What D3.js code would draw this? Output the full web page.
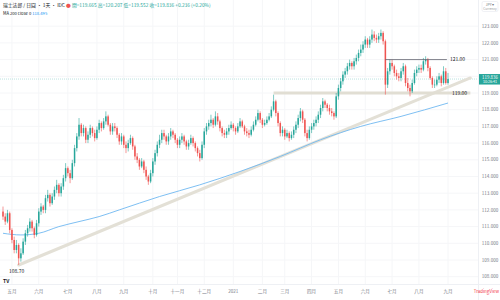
<!DOCTYPE html>
<html>
<head>
<meta charset="utf-8">
<script src="https://cdn.jsdelivr.net/npm/d3@7"></script>
<style>
  body { margin: 0; background: #fff; }
  svg { display: block; }
  text { font-family: "Noto Sans CJK TC", "Noto Sans", sans-serif; }
</style>
</head>
<body>
<div id="chart"></div>
<script>
// daily-ish bars, open = previous close
var firstOpen = 111.9;
var closes = [
  111.6, 111.3, 111.8, 110.8, 110.2, 109.6, 109.9, 109.1, 109.4, 110.1,
  110.6, 110.9, 111.3, 110.9, 110.5, 111.2, 111.9, 112.2, 112.0, 112.7,
  112.9, 112.4, 112.8, 113.2, 113.5, 113.0, 113.4, 113.9, 114.5, 114.2,
  113.9, 114.8, 115.7, 116.4, 117.1, 116.6, 116.9, 116.2, 116.5, 116.9,
  116.6, 116.3, 116.8, 117.2, 116.9, 117.3, 117.6, 117.1, 116.7, 117.0,
  116.9, 116.5, 116.1, 116.4, 115.9, 115.7, 116.0, 116.3, 115.8, 115.2,
  115.0, 114.6, 114.9, 114.4, 114.0, 113.7, 114.2, 114.9, 115.4, 115.9,
  116.2, 116.6, 116.4, 116.1, 116.4, 116.7, 116.5, 116.2, 115.9, 116.2,
  116.4, 116.1, 115.8, 116.0, 116.3, 116.0, 115.7, 115.4, 115.1, 115.9,
  116.7, 117.0, 117.2, 117.4, 117.1, 117.6, 117.3, 116.9, 116.6, 116.5,
  116.7, 116.9, 117.1, 116.9, 116.7, 117.0, 117.3, 117.0, 116.7, 116.6,
  116.5, 116.8, 117.1, 117.4, 117.8, 117.4, 117.1, 117.2, 117.4, 117.6,
  118.0, 118.5, 117.8, 117.2, 116.6, 116.8, 116.4, 116.6, 116.3, 116.5,
  116.8, 117.1, 117.5, 117.9, 117.4, 116.6, 116.3, 116.8, 117.0, 117.2,
  117.4, 117.7, 118.1, 118.5, 118.3, 118.1, 117.9, 117.8, 117.6, 118.8,
  119.3, 119.7, 120.1, 120.3, 120.6, 120.8, 120.6, 120.9, 121.1, 121.4,
  121.6, 121.9, 122.2, 121.9, 122.2, 122.5, 122.3, 122.2, 122.4, 122.6,
  122.1, 119.5, 120.3, 120.8, 120.6, 120.2, 120.0, 119.9, 120.3, 120.6,
  119.6, 119.3, 119.1, 119.6, 120.2, 120.4, 120.5, 120.4, 120.9, 121.0,
  120.5, 119.9, 119.5, 119.5, 119.8, 120.0, 119.6, 120.3, 119.6, 119.836
];
var highs = [
  112.2, 111.8, 112.0, 111.9, 110.9, 110.4, 110.2, 110.0, 109.7, 110.3,
  110.8, 111.1, 111.5, 111.4, 111.0, 111.4, 112.1, 112.4, 112.3, 112.9,
  113.2, 113.0, 113.0, 113.4, 113.8, 113.6, 113.6, 114.1, 114.8, 114.6,
  114.4, 115.0, 115.9, 116.6, 117.5, 117.2, 117.1, 117.0, 116.7, 117.1,
  117.0, 116.8, 117.0, 117.4, 117.3, 117.5, 117.9, 117.7, 117.2, 117.2,
  117.2, 117.0, 116.6, 116.6, 116.5, 116.1, 116.2, 116.5, 116.4, 115.9,
  115.4, 115.1, 115.1, 115.0, 114.6, 114.1, 114.4, 115.1, 115.6, 116.1,
  116.5, 116.8, 116.8, 116.5, 116.6, 116.9, 116.8, 116.6, 116.3, 116.4,
  116.6, 116.5, 116.2, 116.2, 116.5, 116.4, 116.1, 115.8, 115.6, 116.1,
  116.9, 117.2, 117.4, 117.7, 117.5, 117.9, 117.8, 117.4, 117.0, 116.8,
  116.9, 117.1, 117.3, 117.2, 117.0, 117.2, 117.5, 117.4, 117.1, 116.9,
  116.8, 117.0, 117.3, 117.6, 118.0, 117.9, 117.5, 117.4, 117.6, 117.8,
  118.2, 118.9, 118.6, 117.9, 117.3, 117.0, 116.9, 116.8, 116.7, 116.7,
  117.0, 117.3, 117.7, 118.1, 118.0, 117.5, 116.8, 117.0, 117.2, 117.4,
  117.6, 117.9, 118.3, 118.7, 118.6, 118.4, 118.3, 118.1, 117.9, 119.0,
  119.5, 119.9, 120.3, 120.5, 120.8, 121.0, 120.9, 121.1, 121.3, 121.6,
  121.9, 122.1, 122.4, 122.3, 122.4, 122.8, 122.7, 122.5, 122.6, 122.8,
  122.7, 122.2, 120.5, 121.0, 121.0, 120.7, 120.4, 120.2, 120.5, 120.8,
  120.7, 119.9, 119.5, 119.8, 120.4, 120.6, 120.7, 120.7, 121.1, 121.2,
  121.1, 120.6, 120.0, 119.8, 120.0, 120.2, 120.1, 120.6, 120.5, 120.2
];
var lows = [
  111.4, 111.1, 111.2, 110.6, 110.0, 109.4, 109.4, 108.7, 108.9, 109.3,
  109.9, 110.4, 110.7, 110.7, 110.3, 110.4, 111.0, 111.7, 111.8, 111.8,
  112.5, 112.2, 112.3, 112.6, 113.0, 112.8, 112.8, 113.2, 113.7, 114.0,
  113.6, 113.8, 114.6, 115.5, 116.2, 116.4, 116.4, 116.0, 116.0, 116.3,
  116.4, 116.1, 116.2, 116.6, 116.7, 116.8, 117.1, 117.0, 116.5, 116.5,
  116.7, 116.3, 115.9, 115.9, 115.7, 115.4, 115.5, 115.9, 115.6, 115.0,
  114.8, 114.4, 114.5, 114.2, 113.8, 113.5, 113.6, 114.0, 114.7, 115.2,
  115.7, 116.0, 116.2, 115.9, 115.9, 116.2, 116.3, 116.0, 115.7, 115.7,
  116.0, 115.9, 115.6, 115.6, 115.9, 115.8, 115.5, 115.2, 114.9, 115.0,
  115.7, 116.5, 116.8, 117.0, 116.9, 117.0, 117.1, 116.7, 116.4, 116.3,
  116.3, 116.5, 116.8, 116.7, 116.5, 116.6, 116.9, 116.9, 116.5, 116.4,
  116.3, 116.4, 116.7, 117.0, 117.3, 117.2, 116.9, 117.0, 117.1, 117.3,
  117.5, 117.9, 117.6, 117.0, 116.4, 116.4, 116.2, 116.3, 116.1, 116.2,
  116.3, 116.6, 116.9, 117.3, 117.2, 116.4, 116.1, 116.2, 116.6, 116.8,
  117.0, 117.2, 117.5, 117.9, 118.1, 117.9, 117.7, 117.6, 117.4, 117.5,
  118.6, 119.1, 119.5, 119.9, 120.1, 120.4, 120.4, 120.4, 120.7, 120.9,
  121.2, 121.4, 121.7, 121.7, 121.7, 122.0, 122.1, 122.0, 122.0, 122.2,
  121.9, 118.9, 119.3, 120.1, 120.4, 120.0, 119.8, 119.7, 119.7, 120.1,
  119.4, 119.1, 118.8, 119.0, 119.5, 120.0, 120.2, 120.2, 120.3, 120.7,
  120.3, 119.8, 119.3, 119.3, 119.4, 119.6, 119.4, 119.5, 119.5, 119.5
];

// MA 200 read at a few bars
var maIdx  = [0, 8, 16, 25, 34, 43, 52, 70, 88, 106, 124, 142, 160, 178, 199];
var maVals = [110.6, 110.5, 110.6, 111.0, 111.3, 111.6, 112.0, 112.8, 113.5, 114.3, 115.2, 116.2, 117.0, 117.6, 118.4];

// time axis
var monthIdx = [4, 16, 29, 42, 54, 67, 78, 90, 103, 116, 126, 138, 150, 162, 174, 186, 199];
var monthLabels = ["五月", "六月", "七月", "八月", "九月", "十月", "十一月", "十二月", "2021", "二月", "三月", "四月", "五月", "六月", "七月", "八月", "九月"];
var priceTicks = [108, 109, 110, 111, 112, 113, 114, 115, 116, 117, 118, 119, 120, 121, 122, 123];

// drawings
var trendPts = [[7, 108.7], [209, 119.9]];
var supportPts = [[121, 119.0], [209, 119.0]];
var resistPts = [[171, 121.0], [198.5, 121.0]];
var lastPrice = 119.836;

var width = 500, height = 300,
  plotRight = 478, plotBottom = 284;

var svg = d3.select("#chart")
  .append("svg")
  .attr("width", width)
  .attr("height", height);

var x = d3.scaleLinear().domain([0, 199]).range([3, 448]);
var y = d3.scaleLinear().domain([108, 123]).range([276.7, 26.2]);

svg.append("clipPath").attr("id", "plot")
  .append("rect").attr("x", 0).attr("y", 0).attr("width", plotRight).attr("height", plotBottom);

// grid
svg.append("g")
  .selectAll("line")
  .data(priceTicks)
  .enter()
  .append("line")
  .attr("x1", 0).attr("x2", plotRight)
  .attr("y1", function(d) { return y(d); })
  .attr("y2", function(d) { return y(d); })
  .attr("stroke", "#f5f6f8");
svg.append("g")
  .selectAll("line")
  .data(monthIdx)
  .enter()
  .append("line")
  .attr("x1", function(d) { return x(d); })
  .attr("x2", function(d) { return x(d); })
  .attr("y1", 0).attr("y2", plotBottom)
  .attr("stroke", "#f5f6f8");

var plot = svg.append("g").attr("clip-path", "url(#plot)");

// last price line
plot.append("line")
  .attr("x1", 0).attr("x2", plotRight)
  .attr("y1", y(lastPrice)).attr("y2", y(lastPrice))
  .attr("stroke", "#26a69a")
  .attr("stroke-opacity", 0.3)
  .attr("stroke-dasharray", "1,1");

// trend line and support band
var seg = d3.line()
  .x(function(d) { return x(d[0]); })
  .y(function(d) { return y(d[1]); });

plot.append("path")
  .attr("d", seg(trendPts))
  .attr("fill", "none")
  .attr("stroke", "#e3e0d6")
  .attr("stroke-width", 3)
  .attr("stroke-linecap", "round");
plot.append("path")
  .attr("d", seg(supportPts))
  .attr("fill", "none")
  .attr("stroke", "#e1ded3")
  .attr("stroke-width", 3.2);

// MA 200
var maData = maIdx.map(function(d, i) { return [d, maVals[i]]; });
plot.append("path")
  .attr("d", seg.curve(d3.curveMonotoneX)(maData))
  .attr("fill", "none")
  .attr("stroke", "#6fb8f0")
  .attr("stroke-width", 0.9);
seg.curve(d3.curveLinear);

// candles
var bars = closes.map(function(c, i) {
  return { i: i, o: i === 0 ? firstOpen : closes[i - 1], h: highs[i], l: lows[i], c: c };
});
var up = "#26a69a", down = "#ef5350";
var candle = plot.selectAll(".candle")
  .data(bars)
  .enter()
  .append("g")
  .attr("class", "candle");
candle.append("line")
  .attr("x1", function(d) { return x(d.i); })
  .attr("x2", function(d) { return x(d.i); })
  .attr("y1", function(d) { return y(d.h); })
  .attr("y2", function(d) { return y(d.l); })
  .attr("stroke", function(d) { return d.c >= d.o ? up : down; })
  .attr("stroke-width", 0.6);
candle.append("rect")
  .attr("x", function(d) { return x(d.i) - 0.75; })
  .attr("width", 1.5)
  .attr("y", function(d) { return y(Math.max(d.o, d.c)); })
  .attr("height", function(d) { return Math.max(0.6, Math.abs(y(d.o) - y(d.c))); })
  .attr("fill", function(d) { return d.c >= d.o ? up : down; });

// resistance line
plot.append("path")
  .attr("d", seg(resistPts))
  .attr("stroke", "#5d606b")
  .attr("stroke-width", 0.8);

// annotation labels
svg.append("text")
  .attr("x", x(resistPts[1][0]) + 3).attr("y", y(121.0) + 1.8)
  .attr("font-size", 5).attr("fill", "#131722")
  .text("121.00");
svg.append("text")
  .attr("x", x(resistPts[1][0]) + 5).attr("y", y(119.0) + 1.8)
  .attr("font-size", 5).attr("fill", "#131722")
  .text("119.00");
svg.append("text")
  .attr("x", x(7) - 2).attr("y", y(108.7) + 8)
  .attr("text-anchor", "middle")
  .attr("font-size", 5).attr("fill", "#131722")
  .text("108.70");

// axes borders
svg.append("line")
  .attr("x1", plotRight + 0.5).attr("x2", plotRight + 0.5)
  .attr("y1", 0).attr("y2", height)
  .attr("stroke", "#eef0f4");
svg.append("line")
  .attr("x1", 0).attr("x2", width)
  .attr("y1", plotBottom + 0.5).attr("y2", plotBottom + 0.5)
  .attr("stroke", "#eef0f4");

// price axis labels
svg.append("g")
  .selectAll("text")
  .data(priceTicks)
  .enter()
  .append("text")
  .attr("x", 490)
  .attr("y", function(d) { return y(d) + 1.6; })
  .attr("text-anchor", "middle")
  .attr("font-size", 4.6)
  .attr("fill", "#787b86")
  .text(function(d) { return d3.format(".3f")(d); });

// time axis labels
svg.append("g")
  .selectAll("text")
  .data(monthIdx)
  .enter()
  .append("text")
  .attr("x", function(d) { return x(d); })
  .attr("y", 293)
  .attr("text-anchor", "middle")
  .attr("font-size", 4.6)
  .attr("fill", "#787b86")
  .text(function(d, i) { return monthLabels[i]; });

// last price tag
svg.append("rect")
  .attr("x", plotRight + 1).attr("y", y(lastPrice) - 5)
  .attr("width", 21).attr("height", 10.5)
  .attr("fill", up);
svg.append("text")
  .attr("x", 490).attr("y", y(lastPrice) - 0.5)
  .attr("text-anchor", "middle").attr("font-size", 4.4).attr("fill", "#fff")
  .text(d3.format(".3f")(lastPrice));
svg.append("text")
  .attr("x", 490).attr("y", y(lastPrice) + 4)
  .attr("text-anchor", "middle").attr("font-size", 3.6).attr("fill", "#fff")
  .text("10:26:41");

// currency selector, top right
svg.append("rect")
  .attr("x", 482).attr("y", 1.5).attr("width", 16).attr("height", 10)
  .attr("fill", "#fff").attr("stroke", "#e0e3eb").attr("stroke-width", 0.5).attr("rx", 1.5);
svg.append("text")
  .attr("x", 490).attr("y", 6).attr("text-anchor", "middle")
  .attr("font-size", 3.6).attr("fill", "#787b86").text("JPY ▾");
svg.append("text")
  .attr("x", 490).attr("y", 10).attr("text-anchor", "middle")
  .attr("font-size", 3.2).attr("fill", "#9598a1").text("Currency");

// header legend
var head = svg.append("text").attr("x", 3).attr("y", 7).attr("font-size", 4.8);
head.append("tspan").attr("fill", "#131722").text("瑞士法郎 / 日圓 · 1天 · IDC ");
head.append("tspan").attr("fill", "#ef5350").text(" ● ");
head.append("tspan").attr("fill", "#26a69a")
  .text(" 開=119.665 高=120.207 低=119.552 收=119.836 +0.236 (+0.20%)");
var head2 = svg.append("text").attr("x", 3).attr("y", 15).attr("font-size", 4.2);
head2.append("tspan").attr("fill", "#131722").text("MA 200 close 0 ");
head2.append("tspan").attr("fill", "#2196f3").text(" " + d3.format(".3f")(maVals[maVals.length - 1] + 0.095));

// logos
svg.append("text")
  .attr("x", 3).attr("y", 283).attr("font-size", 5).attr("font-weight", "bold")
  .attr("fill", "#131722").text("TV");
svg.append("text")
  .attr("x", 499).attr("y", 293).attr("text-anchor", "end")
  .attr("font-size", 4.4).attr("fill", "#f23645").text("TradingView");
</script>
</body>
</html>
